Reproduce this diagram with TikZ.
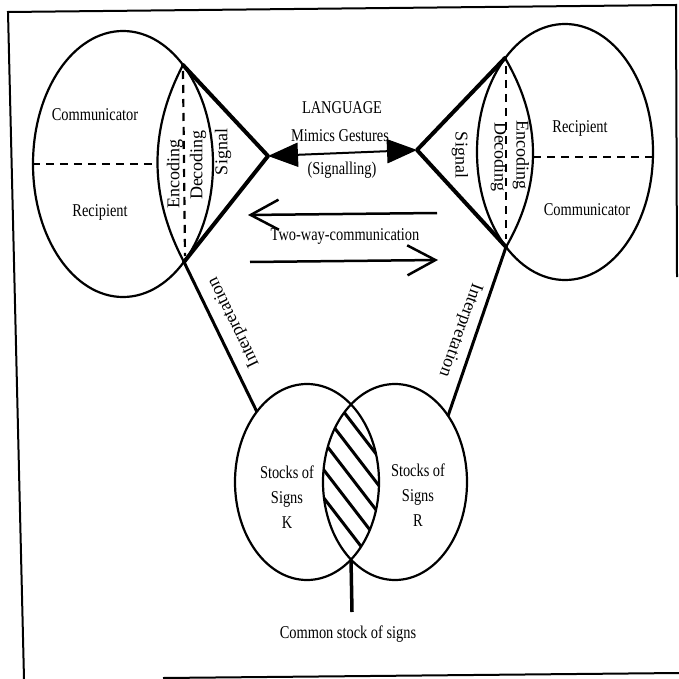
\documentclass[tikz,border=0pt]{standalone}
\usepackage{fontspec}
\setmainfont{Liberation Serif}[FakeStretch=0.8]
\newfontfamily\wideserif{Liberation Serif}
\usetikzlibrary{shapes.geometric,arrows.meta,calc}
\begin{document}
\begin{tikzpicture}[x=1pt,y=-1pt,
  outline/.style={draw,line width=2.2pt},
  party/.style={ellipse,outline,inner sep=0pt},
  lbl/.style={font=\fontsize{18}{20}\selectfont,inner sep=0pt},
  vlbl/.style={font=\wideserif\fontsize{18}{20}\selectfont,inner sep=0pt},
  stock/.style={font=\fontsize{18}{25}\selectfont,align=center,inner sep=0pt},
  divider/.style={line width=2.2pt,dash pattern=on 8pt off 6pt},
  signalline/.style={line width=4pt,line cap=round,line join=round},
  interp/.style={line width=3pt},
  hatch/.style={line width=3pt},
  framel/.style={line width=2pt},
  flowarrow/.style={line width=2.5pt,-{Straight Barb[length=28pt,width=30pt]}}]
\useasboundingbox (0,0) rectangle (679,679);

% frame
\coordinate (f1) at (8,12);
\coordinate (f2) at (676,5);
\coordinate (f3) at (677,277);
\coordinate (f4) at (24,679);
\coordinate (f5) at (163,678);
\coordinate (f6) at (679,673);
\draw[framel] (f3) -- (f2) -- (f1) -- (f4);
\draw[framel] (f5) -- (f6);

% the two parties
\node[party,minimum width=180pt,minimum height=266pt] (L) at (123,164) {};
\node[party,minimum width=176pt,minimum height=256pt] (R) at (565,152) {};

% lens corners and apexes
\coordinate (LT) at (183,65);
\coordinate (LB) at (184,262);
\coordinate (LA) at (268,156);
\coordinate (RT) at (505,58);
\coordinate (RB) at (506,247);
\coordinate (RA) at (417,150);

% inner lens arcs
\draw[outline] (LT) .. controls (148.7,130.3) and (149,196) .. (LB);
\draw[outline] (RT) .. controls (542,121) and (542.3,184) .. (RB);

% dashed dividers
\coordinate (Ldiv) at (157,164);
\coordinate (Rdiv) at (533,157);
\draw[divider] (L.west) -- (Ldiv);
\draw[divider] (Rdiv) -- (R.east |- Rdiv);
\draw[divider] ($(LT)+(0,6)$) -- ($(LB)+(1,-6)$);
\draw[divider] ($(RT)+(1,8)$) -- ($(RB)+(0,-8)$);

% signal wedges
\draw[signalline] (LT) -- (LA) -- (LB);
\draw[signalline] (RT) -- (RA) -- (RB);

% language arrow
\draw[line width=2pt,{Triangle[length=30pt,width=24pt]}-{Triangle[length=30pt,width=24pt]}] (LA) -- (RA);

% two-way communication
\coordinate (ta1) at (437,213);
\coordinate (ta2) at (248,215);
\coordinate (tb1) at (250,262);
\coordinate (tb2) at (438,260);
\draw[flowarrow] (ta1) -- (ta2);
\draw[flowarrow] (tb1) -- (tb2);

% stocks of signs
\node[party,minimum width=144pt,minimum height=196pt] (K) at (307,482) {};
\node[party,minimum width=144pt,minimum height=196pt] (S) at (395,482) {};
\begin{scope}
  \clip (307,482) ellipse [x radius=72pt,y radius=98pt];
  \clip (395,482) ellipse [x radius=72pt,y radius=98pt];
  \foreach \c in {392,420,448,476,504,532,560}
    \draw[hatch] (300,{\c-65}) -- (400,{\c+65});
\end{scope}

% interpretation links
\coordinate (KI) at (257,412);
\coordinate (SI) at (448,416);
\draw[interp] (LB) -- (KI);
\draw[interp] (RB) -- (SI);

% common stock pointer
\coordinate (CB) at (351,560);
\coordinate (CE) at (352,612);
\draw[line width=3.5pt] (CB) -- (CE);

% texts
\node[lbl] (t1) at (95,115) {Communicator};
\node[lbl] (t2) at (100,212) {Recipient};
\node[lbl] (t3) at (580,128) {Recipient};
\node[lbl] (t4) at (587,210) {Communicator};
\node[lbl] (t5) at (342,108) {LANGUAGE};
\node[lbl] (t6) at (340,136) {Mimics Gestures};
\node[lbl] (t7) at (342,170) {(Signalling)};
\node[lbl] (t8) at (345,236) {Two-way-communication};
\node[lbl] (t9) at (348,634) {Common stock of signs};

% vertical labels
\node[vlbl,rotate=90] (e1) at (175,174) {Encoding};
\node[vlbl,rotate=90] (d1) at (198,165) {Decoding};
\node[vlbl,rotate=90] (s1) at (223,152) {Signal};
\node[vlbl,rotate=-90] (d2) at (499,157) {Decoding};
\node[vlbl,rotate=-90] (e2) at (521,155) {Encoding};
\node[vlbl,rotate=-90] (s2) at (460,155) {Signal};

\node[vlbl,rotate=116] (i1) at (234,322) {Interpretation};
\node[vlbl,rotate=-110] (i2) at (460,330) {Interpretation};

\node[stock] (k1) at (287,497) {Stocks of\\Signs\\K};
\node[stock] (k2) at (418,495) {Stocks of\\Signs\\R};
\end{tikzpicture}
\end{document}
